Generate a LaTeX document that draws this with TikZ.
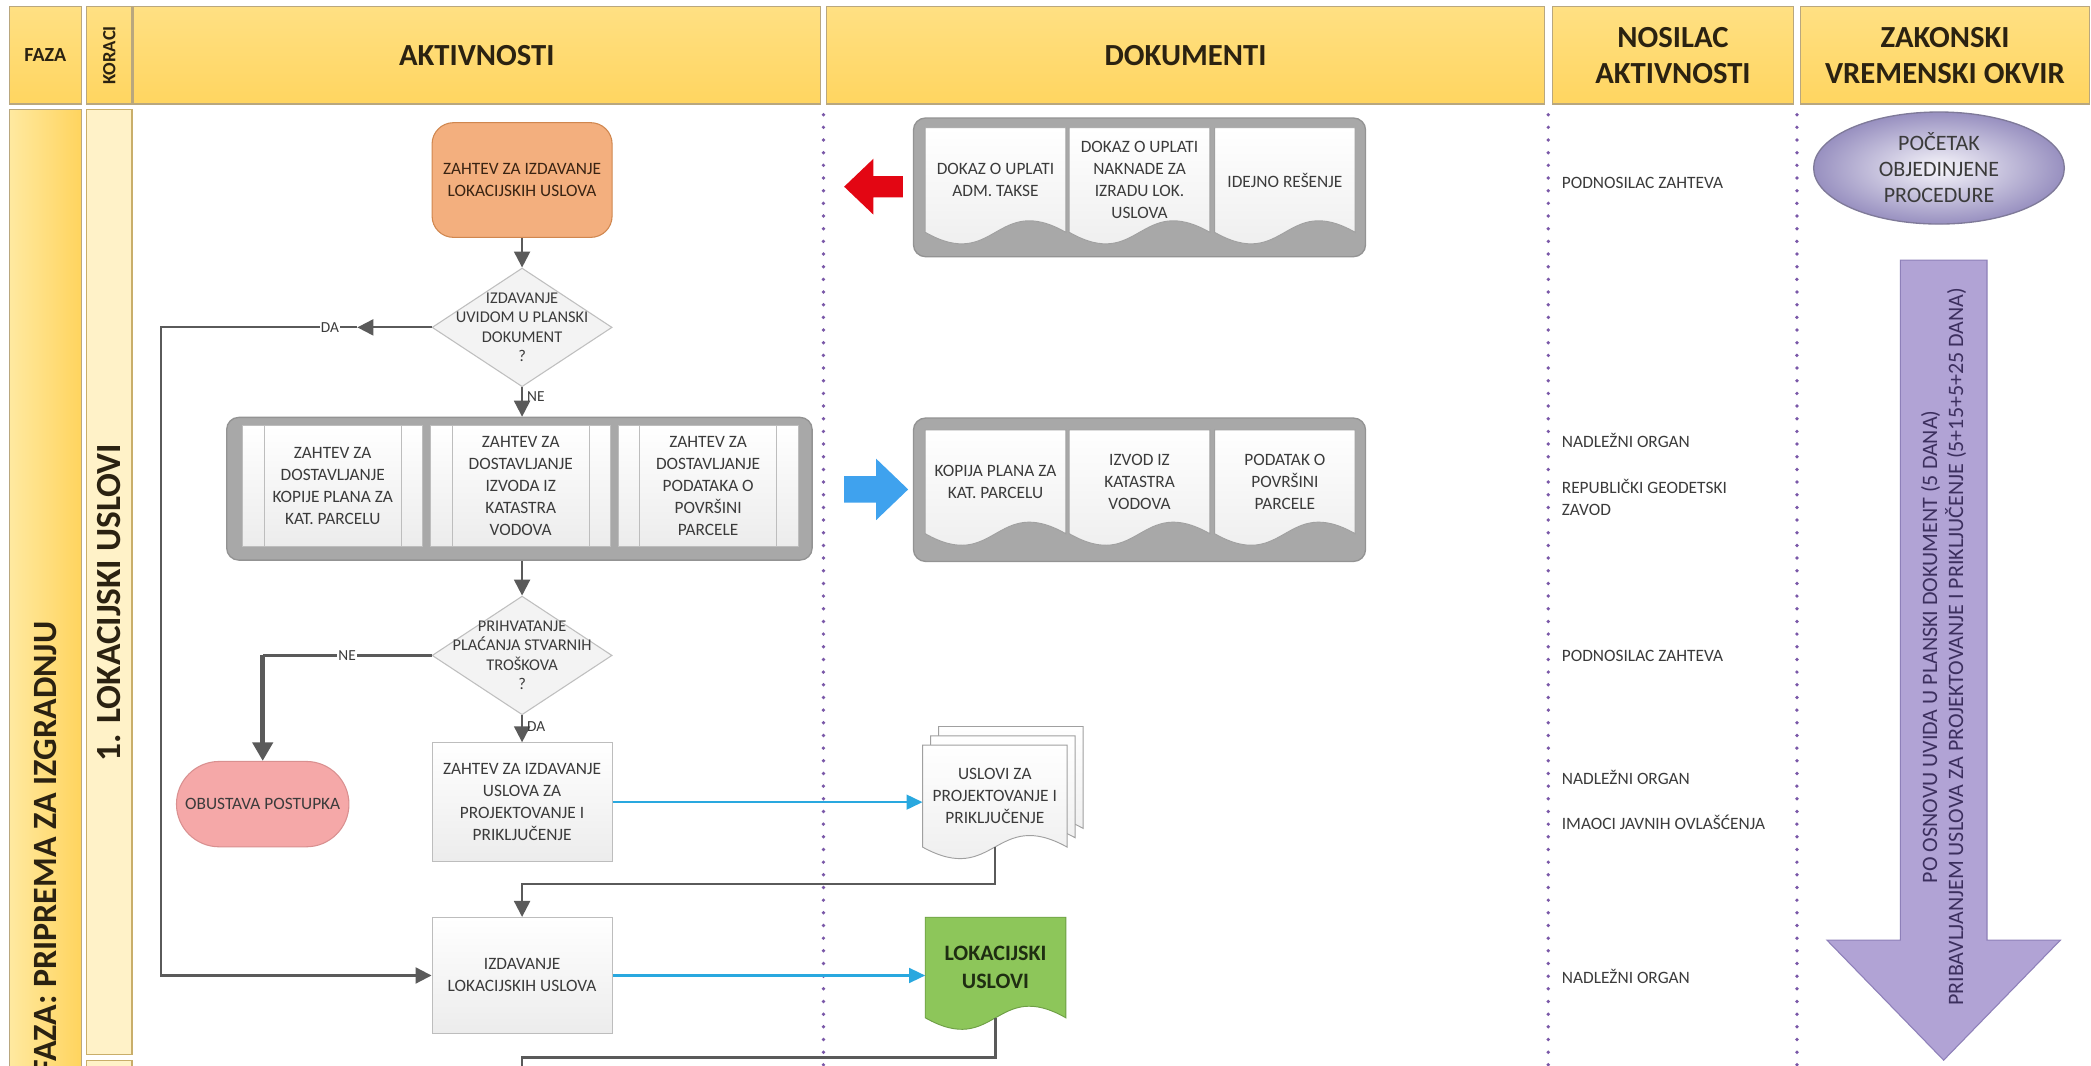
\documentclass[tikz,border=0pt]{standalone}
\usepackage{fontspec}
\setmainfont{Carlito}
\usetikzlibrary{shapes.geometric,shapes.misc,arrows.meta,calc}
\pgfdeclarelayer{canvasbg}
\pgfdeclarelayer{back}
\pgfdeclarelayer{mid}
\pgfsetlayers{canvasbg,back,mid,main}
\definecolor{hdrtop}{HTML}{FFE083}
\definecolor{hdrbot}{HTML}{FFD560}
\definecolor{hdrline}{HTML}{B9A77E}
\definecolor{hdrtxt}{HTML}{2B2211}
\definecolor{korfill}{HTML}{FFF2C8}
\definecolor{korline}{HTML}{C9AE6A}
\definecolor{fazaL}{HTML}{FFE9A0}
\definecolor{fazaR}{HTML}{FFD45E}
\definecolor{txt}{HTML}{3B3B3B}
\definecolor{boxline}{HTML}{BDBDBD}
\definecolor{boxfill}{HTML}{ECECEC}
\definecolor{diaFill}{HTML}{F3F3F3}
\definecolor{diaLine}{HTML}{BFBFBF}
\definecolor{grpFill}{HTML}{A8A8A8}
\definecolor{grpLine}{HTML}{939393}
\definecolor{docLine}{HTML}{A0A0A0}
\definecolor{docFill}{HTML}{EBEBEB}
\definecolor{arrc}{HTML}{5A5A5A}
\definecolor{bluec}{HTML}{29A8DF}
\definecolor{dotc}{HTML}{7A58A8}
\definecolor{orFill}{HTML}{F3AF7E}
\definecolor{orLine}{HTML}{D0874F}
\definecolor{orTxt}{HTML}{3A2413}
\definecolor{pinkFill}{HTML}{F5A8A8}
\definecolor{pinkLine}{HTML}{D99090}
\definecolor{greenFill}{HTML}{8DC65A}
\definecolor{greenLine}{HTML}{6E9F45}
\definecolor{greenTxt}{HTML}{1F2E12}
\definecolor{lavIn}{HTML}{F7F6FB}
\definecolor{lavOut}{HTML}{9890C0}
\definecolor{lavLine}{HTML}{7F7A99}
\definecolor{arrowLav}{HTML}{B1A3D5}
\definecolor{arrowLavLine}{HTML}{8E80B9}
\definecolor{arrTxt}{HTML}{3C2F5E}
\definecolor{redArr}{HTML}{E30613}
\definecolor{blueArr}{HTML}{3FA2EE}
\newcommand{\docshape}[4]{%
  \path[#2] ([xshift=#3,yshift=#4]#1.north west) -- ([xshift=#3,yshift=#4]#1.north east)
    -- ([xshift=#3,yshift=#4]#1.south east)
    .. controls ([xshift=#3,yshift=#4+30pt]#1.south) and ([xshift=#3,yshift=#4-30pt]#1.south)
    .. ([xshift=#3,yshift=#4]#1.south west) -- cycle;}
\begin{document}
\begin{tikzpicture}[x=1pt,y=-1pt,
  hdr/.style={draw=hdrline, line width=0.8pt, top color=hdrtop, bottom color=hdrbot,
    inner sep=0pt, align=center, text=hdrtxt, font=\bfseries\fontsize{23}{27}\selectfont},
  bodytxt/.style={font=\fontsize{13}{16.5}\selectfont, text=txt, align=center},
  procbox/.style={bodytxt, draw=boxline, line width=0.8pt, top color=white, bottom color=boxfill,
    minimum width=135pt, inner sep=2pt},
  dbl/.style={procbox, path picture={\draw[boxline, line width=0.8pt]
    ([xshift=16pt]path picture bounding box.north west) -- ([xshift=16pt]path picture bounding box.south west)
    ([xshift=-16pt]path picture bounding box.north east) -- ([xshift=-16pt]path picture bounding box.south east);}},
  dia/.style={diamond, draw=diaLine, fill=diaFill, line width=0.8pt, minimum width=135pt,
    minimum height=89pt, inner sep=0pt},
  diatext/.style={font=\fontsize{12.3}{14.6}\selectfont, text=txt, align=center, inner sep=0pt},
  grp/.style={draw=grpLine, fill=grpFill, rounded corners=9pt, line width=1pt, inner sep=0pt},
  doctxt/.style={bodytxt, inner sep=0pt, minimum width=105pt},
  docsty/.style={draw=docLine, line width=0.7pt, top color=white, bottom color=docFill},
  greensty/.style={draw=greenLine, line width=0.7pt, fill=greenFill},
  conn/.style={draw=arrc, line width=1.6pt, -{Triangle[length=12pt,width=12pt]}},
  lineonly/.style={draw=arrc, line width=1.6pt},
  thickarr/.style={draw=arrc, line width=3.5pt, -{Triangle[length=14pt,width=15pt]}},
  bluearr/.style={draw=bluec, line width=1.8pt, -{Triangle[length=12pt,width=11pt]}},
  lbl/.style={font=\fontsize{11.5}{13}\selectfont, text=txt, inner sep=1pt},
  who/.style={font=\fontsize{13}{16.5}\selectfont, text=txt, anchor=west, align=left, inner sep=0pt},
  dotline/.style={draw=dotc, line width=2.8pt, line cap=round, dash pattern=on 0pt off 9.5pt}
]
\path[use as bounding box] (0,0) rectangle (1568,799);
\begin{pgfonlayer}{canvasbg}
\fill[white] (0,0) rectangle (1568,799);
\end{pgfonlayer}
\clip (0,0) rectangle (1568,799);

% ---------- header ----------
\node[hdr, minimum width=54pt, minimum height=73pt, font=\bfseries\fontsize{15}{18}\selectfont] (hfaza) at (34,41.5) {FAZA};
\node[hdr, minimum width=34pt, minimum height=73pt] (hkor) at (82,41.5) {};
\node[rotate=90, font=\bfseries\fontsize{14}{16}\selectfont, text=hdrtxt, inner sep=0pt] (hkort) at (hkor) {KORACI};
\node[hdr, minimum width=515pt, minimum height=73pt] (hakt) at (357.5,41.5) {AKTIVNOSTI};
\node[hdr, minimum width=538pt, minimum height=73pt] (hdok) at (889,41.5) {DOKUMENTI};
\node[hdr, minimum width=181pt, minimum height=73pt] (hnos) at (1254.5,41.5) {NOSILAC\\AKTIVNOSTI};
\node[hdr, minimum width=217pt, minimum height=73pt] (hzak) at (1458.5,41.5) {ZAKONSKI\\VREMENSKI OKVIR};

% ---------- left columns ----------
\node[draw=hdrline, line width=0.8pt, left color=fazaL, right color=fazaR, minimum width=54pt, minimum height=760pt, anchor=north, inner sep=0pt] (bfaza) at (34,82) {};
\node[rotate=90, anchor=east, font=\bfseries\fontsize{25.5}{28}\selectfont, text=hdrtxt, inner sep=0pt] (tfaza) at (34,466) {FAZA: PRIPREMA ZA IZGRADNJU};
\node[draw=korline, line width=0.8pt, fill=korfill, minimum width=34pt, minimum height=708pt, anchor=north, inner sep=0pt] (bkor) at (82,82) {};
\node[rotate=90, font=\bfseries\fontsize{26.5}{28}\selectfont, text=hdrtxt, inner sep=0pt] (tkor) at (82,452) {1. LOKACIJSKI USLOVI};
\node[draw=korline, line width=0.8pt, fill=korfill, minimum width=34pt, minimum height=60pt, anchor=north, inner sep=0pt] (bkor2) at (82,795) {};

% ---------- dotted separators ----------
\draw[dotline] (617.5,86) -- (617.5,799);
\draw[dotline] (1161,86) -- (1161,799);
\draw[dotline] (1347.5,86) -- (1347.5,799);

% ---------- activities ----------
\node[draw=orLine, line width=0.8pt, fill=orFill, rounded corners=16pt, minimum width=135pt, minimum height=86pt, bodytxt, text=orTxt] (zahtev) at (391.5,135) {ZAHTEV ZA IZDAVANJE\\LOKACIJSKIH USLOVA};
\node[dia] (d1) at (391.5,245.5) {};
\node[diatext] (d1t) at (d1) {IZDAVANJE\\UVIDOM U PLANSKI\\DOKUMENT\\?};

\node[grp, minimum width=439pt, minimum height=107pt] (g1) at (389.5,366.5) {};
\node[dbl, minimum height=91pt] (p1) at (249.5,364.5) {ZAHTEV ZA\\DOSTAVLJANJE\\KOPIJE PLANA ZA\\KAT. PARCELU};
\node[dbl, minimum height=91pt] (p2) at (390.5,364.5) {ZAHTEV ZA\\DOSTAVLJANJE\\IZVODA IZ\\KATASTRA\\VODOVA};
\node[dbl, minimum height=91pt] (p3) at (531,364.5) {ZAHTEV ZA\\DOSTAVLJANJE\\PODATAKA O\\POVRŠINI\\PARCELE};

\node[dia] (d2) at (391.5,491.5) {};
\node[diatext] (d2t) at (d2) {PRIHVATANJE\\PLAĆANJA STVARNIH\\TROŠKOVA\\?};

\node[rounded rectangle, draw=pinkLine, line width=0.8pt, fill=pinkFill, minimum width=136pt, minimum height=64pt, bodytxt, text=txt] (obust) at (197,603) {OBUSTAVA POSTUPKA};
\node[procbox, minimum height=89pt] (p4) at (391.5,601.5) {ZAHTEV ZA IZDAVANJE\\USLOVA ZA\\PROJEKTOVANJE I\\PRIKLJUČENJE};
\node[procbox, minimum height=87pt] (p5) at (391.5,731.5) {IZDAVANJE\\LOKACIJSKIH USLOVA};

% ---------- documents ----------
\begin{pgfonlayer}{back}
\node[grp, minimum width=339pt, minimum height=104pt] (dg1) at (854.5,140.5) {};
\node[grp, minimum width=339pt, minimum height=107.5pt] (dg2) at (854.5,367.25) {};
\end{pgfonlayer}
\node[doctxt, minimum height=78pt] (k1) at (746.5,135) {DOKAZ O UPLATI\\ADM. TAKSE};
\node[doctxt, minimum height=78pt] (k2) at (854.5,135) {DOKAZ O UPLATI\\NAKNADE ZA\\IZRADU LOK.\\USLOVA};
\node[doctxt, minimum height=78pt] (k3) at (963.5,135) {IDEJNO REŠENJE};
\node[doctxt, minimum height=77.5pt] (k4) at (746.5,361.25) {KOPIJA PLANA ZA\\KAT. PARCELU};
\node[doctxt, minimum height=77.5pt] (k5) at (854.5,361.25) {IZVOD IZ\\KATASTRA\\VODOVA};
\node[doctxt, minimum height=77.5pt] (k6) at (963.5,361.25) {PODATAK O\\POVRŠINI\\PARCELE};
\node[doctxt, minimum width=108pt, minimum height=76pt] (md) at (746,597) {USLOVI ZA\\PROJEKTOVANJE I\\PRIKLJUČENJE};
\node[doctxt, minimum height=75pt, font=\bfseries\fontsize{16.5}{21}\selectfont, text=greenTxt] (gdoc) at (746.5,725.5) {LOKACIJSKI\\USLOVI};
\begin{pgfonlayer}{mid}
\foreach \n in {k1,k2,k3,k4,k5,k6} {\docshape{\n}{docsty}{0pt}{0pt}}
\docshape{md}{docsty}{12pt}{14pt}
\docshape{md}{docsty}{6pt}{7pt}
\docshape{md}{docsty}{0pt}{0pt}
\docshape{gdoc}{greensty}{0pt}{0pt}
\end{pgfonlayer}

% block arrows
\fill[redArr] (633,140) -- (655,119) -- (655,132) -- (677,132) -- (677,148) -- (655,148) -- (655,161) -- cycle;
\fill[blueArr] (681,367) -- (657,344) -- (657,357) -- (633,357) -- (633,377) -- (657,377) -- (657,390) -- cycle;

% ---------- connectors ----------
\draw[conn] (zahtev.south) -- (d1.north);
\coordinate (daTip) at (268,245.5);
\coordinate (daC) at (121,245.5);
\draw[conn] (d1.west) -- (daTip);
\draw[conn] (daTip) -- node[lbl, fill=white, pos=0.14]{DA} (daC) |- (p5.west);
\draw[conn] (d1.south) -- node[lbl, right=2pt, pos=0.3]{NE} (d1.south |- g1.north);
\draw[conn] (g1.south -| d2.north) -- (d2.north);
\coordinate (neC) at (obust.north |- d2.west);
\draw[lineonly] (d2.west) -- node[lbl, fill=white]{NE} (neC);
\draw[thickarr] (neC) -- (obust.north);
\draw[conn] (d2.south) -- node[lbl, right=2pt, pos=0.4]{DA} (p4.north);
\draw[bluearr] (p4.east) -- (p4.east -| md.west);
\coordinate (b1) at (746,663);
\draw[conn] (md.south) -- (b1) -| (p5.north);
\draw[bluearr] (p5.east) -- (p5.east -| gdoc.west);
\coordinate (b2) at (746.5,793);
\coordinate (b3) at (391.5,815);
\draw[lineonly] (gdoc.south) -- (b2) -| (b3);

% ---------- nosilac ----------
\node[who] (n1) at (1171,137) {PODNOSILAC ZAHTEVA};
\node[who] (n2) at (1171,330) {NADLEŽNI ORGAN};
\node[who] (n3) at (1171,373) {REPUBLIČKI GEODETSKI\\ZAVOD};
\node[who] (n4) at (1171,492) {PODNOSILAC ZAHTEVA};
\node[who] (n5) at (1171,583) {NADLEŽNI ORGAN};
\node[who] (n6) at (1171,617) {IMAOCI JAVNIH OVLAŠĆENJA};
\node[who] (n7) at (1171,732) {NADLEŽNI ORGAN};

% ---------- time frame ----------
\node[ellipse, draw=lavLine, line width=1pt, inner color=lavIn, outer color=lavOut, minimum width=188pt, minimum height=84pt, font=\fontsize{16.5}{19.5}\selectfont, text=txt, align=center, inner sep=0pt] (poc) at (1454,126) {POČETAK\\OBJEDINJENE\\PROCEDURE};
\path[draw=arrowLavLine, fill=arrowLav, line width=0.8pt] (1425,195) -- (1490,195) -- (1490,705) -- (1545,705) -- (1457.5,795) -- (1370,705) -- (1425,705) -- cycle;
\node[rotate=90, font=\fontsize{16.5}{19.5}\selectfont, text=arrTxt, align=center, inner sep=0pt] (okvir) at (1457.5,485) {PO OSNOVU UVIDA U PLANSKI DOKUMENT (5 DANA)\\PRIBAVLJANJEM USLOVA ZA PROJEKTOVANJE I PRIKLJUČENJE (5+15+5+25 DANA)};
\end{tikzpicture}
\end{document}
